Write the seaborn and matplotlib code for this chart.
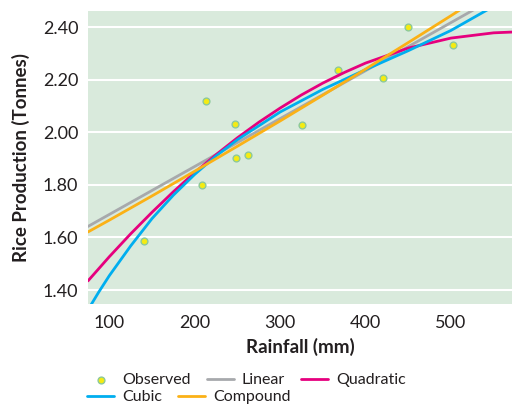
import matplotlib
matplotlib.use('Agg')
import matplotlib.pyplot as plt
import matplotlib.font_manager as fm
import seaborn as sns

# observed data points
rain_obs = [141, 208, 213, 247, 248, 262, 326, 368, 421, 450, 502]
rice_obs = [1.588, 1.800, 2.118, 2.030, 1.901, 1.913, 2.029, 2.236, 2.207, 2.401, 2.333]

# fitted curves
linear_x = [75, 200, 300, 400, 540]
linear_y = [1.642, 1.870, 2.052, 2.234, 2.490]

quad_x = [75, 100, 125, 150, 175, 200, 225, 250, 275, 300, 325, 350, 375, 400, 450, 500, 550, 572]
quad_y = [1.435, 1.527, 1.614, 1.696, 1.774, 1.847, 1.915, 1.979, 2.038, 2.092, 2.142, 2.187, 2.227,
          2.263, 2.320, 2.358, 2.378, 2.381]

cubic_x = [75, 87.5, 100, 125, 150, 175, 200, 225, 250, 300, 350, 400, 450, 500, 550]
cubic_y = [1.325, 1.392, 1.455, 1.568, 1.672, 1.761, 1.840, 1.910, 1.972, 2.077, 2.163, 2.238, 2.310, 2.387, 2.479]

comp_x = [75, 100, 150, 200, 250, 300, 350, 400, 450, 500, 520]
comp_y = [1.621, 1.666, 1.758, 1.852, 1.947, 2.043, 2.141, 2.240, 2.341, 2.443, 2.485]

xticks = [100, 200, 300, 400, 500]
yticks = [1.40, 1.60, 1.80, 2.00, 2.20, 2.40]

sns.set_style('white', {'axes.facecolor': '#d9eadc'})
names = set(f.name for f in fm.fontManager.ttflist)
if 'Liberation Sans Narrow' in names:
    font, fs, fl, fb = 'Liberation Sans Narrow', 14.5, 13.5, 14.5
else:
    font, fs, fl, fb = 'Lato', 13, 11.5, 13.5
plt.rcParams['font.family'] = [font, 'DejaVu Sans']
txt = '#231f20'

fig = plt.figure(figsize=(5.12, 4.04), dpi=100)
ax = fig.add_axes([88 / 512, 1 - 303.5 / 404, 424 / 512, 292.5 / 404])

sns.scatterplot(x=rain_obs, y=rice_obs, ax=ax, s=24, color='#f4eb13',
                edgecolor='#8cc99b', linewidth=1.0, label='Observed', zorder=3)
sns.lineplot(x=linear_x, y=linear_y, ax=ax, color='#a7a9ac', lw=2.0, label='Linear', zorder=4)
sns.lineplot(x=quad_x, y=quad_y, ax=ax, color='#e6007e', lw=2.0, label='Quadratic', zorder=4)
sns.lineplot(x=cubic_x, y=cubic_y, ax=ax, color='#00aeef', lw=2.0, label='Cubic', zorder=4)
sns.lineplot(x=comp_x, y=comp_y, ax=ax, color='#fbb116', lw=2.0, label='Compound', zorder=4)

ax.set_xlim(75, 571.5)
ax.set_ylim(1.349, 2.461)
ax.set_xticks(xticks)
ax.set_xticklabels([str(v) for v in xticks])
ax.set_yticks(yticks)
ax.set_yticklabels(['%.2f' % v for v in yticks])
for y in yticks:
    ax.axhline(y, color='white', lw=1.5, zorder=1)
for s in ax.spines.values():
    s.set_visible(False)
ax.tick_params(axis='both', length=4, width=1, color='#444444', pad=4,
               labelsize=fs, labelcolor=txt)
ax.tick_params(axis='y', pad=3)
ax.set_xlabel('Rainfall (mm)', fontsize=fb, fontweight='bold', color=txt, labelpad=5)
ax.set_ylabel('Rice Production (Tonnes)', fontsize=fb, fontweight='bold', color=txt, labelpad=9)

h, l = ax.get_legend_handles_labels()
if ax.get_legend() is not None:
    ax.get_legend().remove()
hd = dict(zip(l, h))
kw = dict(frameon=False, fontsize=fl, handlelength=1.7, handletextpad=0.5,
          columnspacing=1.0, borderpad=0, borderaxespad=0, labelcolor=txt)
fig.legend([hd['Observed'], hd['Linear'], hd['Quadratic']], ['Observed', 'Linear', 'Quadratic'],
           ncol=3, loc='center left', bbox_to_anchor=(87 / 512, 1 - 380 / 404), **kw)
fig.legend([hd['Cubic'], hd['Compound']], ['Cubic', 'Compound'],
           ncol=2, loc='center left', bbox_to_anchor=(87 / 512, 1 - 397 / 404), **kw)

fig.savefig('out.png', dpi=100)
